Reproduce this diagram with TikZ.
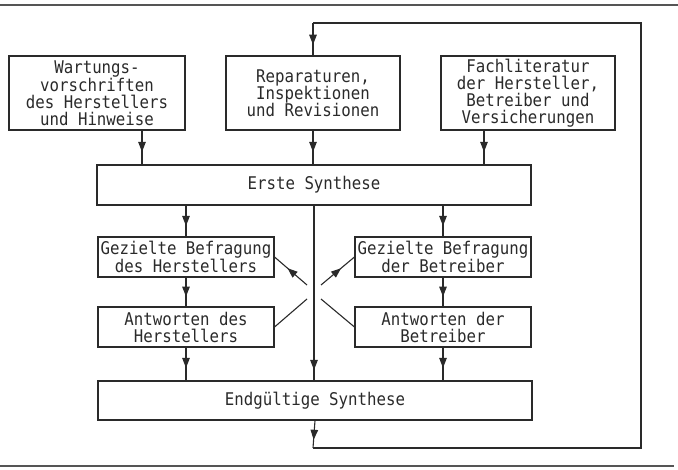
\documentclass[tikz,border=0pt]{standalone}
\usepackage{fontspec}
\setmonofont[FakeStretch=0.9]{DejaVu Sans Mono}
\usetikzlibrary{arrows.meta,decorations.markings}
\definecolor{ink}{HTML}{2A2A2A}
\tikzset{
  box/.style={draw=ink, line width=1.1pt, align=center, inner sep=0pt,
    font=\ttfamily\fontsize{17.5}{17}\selectfont, text=ink},
  conn/.style={draw=ink, line width=1.1pt},
  marrow/.style={conn, postaction={decorate}, decoration={markings,
    mark=at position #1 with {\arrow{Triangle[length=10pt,width=7.5pt]}}}},
  rule/.style={draw=ink!80, line width=1.4pt},
}
\begin{document}
\begin{tikzpicture}[x=1pt,y=-1pt]
\useasboundingbox (0,0) rectangle (678,470);
\draw[rule] (0,5) -- (678,5);
\draw[rule] (0,466) -- (674,466);

\node[box, minimum width=176pt, minimum height=74pt] (wart) at (97,93)
  {Wartungs-\\vorschriften\\des Herstellers\\und Hinweise};
\node[box, minimum width=174pt, minimum height=74pt] (rep) at (313,93)
  {Reparaturen,\\Inspektionen\\und Revisionen};
\node[box, minimum width=174pt, minimum height=74pt] (fach) at (528,93)
  {Fachliteratur\\der Hersteller,\\Betreiber und\\Versicherungen};
\node[box, minimum width=434pt, minimum height=40pt] (erste) at (314,185)
  {Erste Synthese};
\node[box, minimum width=176pt, minimum height=40pt] (gl) at (186,257)
  {Gezielte Befragung\\des Herstellers};
\node[box, minimum width=176pt, minimum height=40pt] (gr) at (443,257)
  {Gezielte Befragung\\der Betreiber};
\node[box, minimum width=176pt, minimum height=40pt] (al) at (186,327)
  {Antworten des\\Herstellers};
\node[box, minimum width=176pt, minimum height=40pt] (ar) at (443,327)
  {Antworten der\\Betreiber};
\node[box, minimum width=434pt, minimum height=39pt] (end) at (315,400.5)
  {Endgültige Synthese};

% inputs to first synthesis
\draw[marrow=0.63] ([xshift=45pt]wart.south) -- ([xshift=45pt]wart.south |- erste.north);
\draw[marrow=0.63] (rep.south) -- (rep.south |- erste.north);
\draw[marrow=0.63] ([xshift=-44pt]fach.south) -- ([xshift=-44pt]fach.south |- erste.north);

% first synthesis to questioning
\draw[marrow=0.66] (gl.north |- erste.south) -- (gl.north);
\draw[marrow=0.66] (gr.north |- erste.south) -- (gr.north);
\draw[marrow=0.66] (gl.south) -- (al.north);
\draw[marrow=0.66] (gr.south) -- (ar.north);
\draw[marrow=0.62] (al.south) -- (al.south |- end.north);
\draw[marrow=0.62] (ar.south) -- (ar.south |- end.north);
\draw[marrow=0.94] (erste.south) -- (erste.south |- end.north);

% crossing diagonals
\coordinate (dlu) at (307,285);
\coordinate (dll) at (307,299);
\coordinate (dru) at (321,285);
\coordinate (drl) at (321,299);
\draw[marrow=0.6] (dlu) -- (gl.east);
\draw[conn] (dll) -- (al.east);
\draw[marrow=0.6] (dru) -- (gr.west);
\draw[conn] (drl) -- (ar.west);

% feedback loop
\coordinate (fb1) at (313,448);
\coordinate (fb2) at (641,23);
\coordinate (fb3) at (313,23);
\draw[marrow=0.7] (end.south) -- (fb1);
\draw[conn] (fb1) -| (fb2) -- (fb3);
\draw[marrow=0.67] (fb3) -- (rep.north);
\end{tikzpicture}
\end{document}
